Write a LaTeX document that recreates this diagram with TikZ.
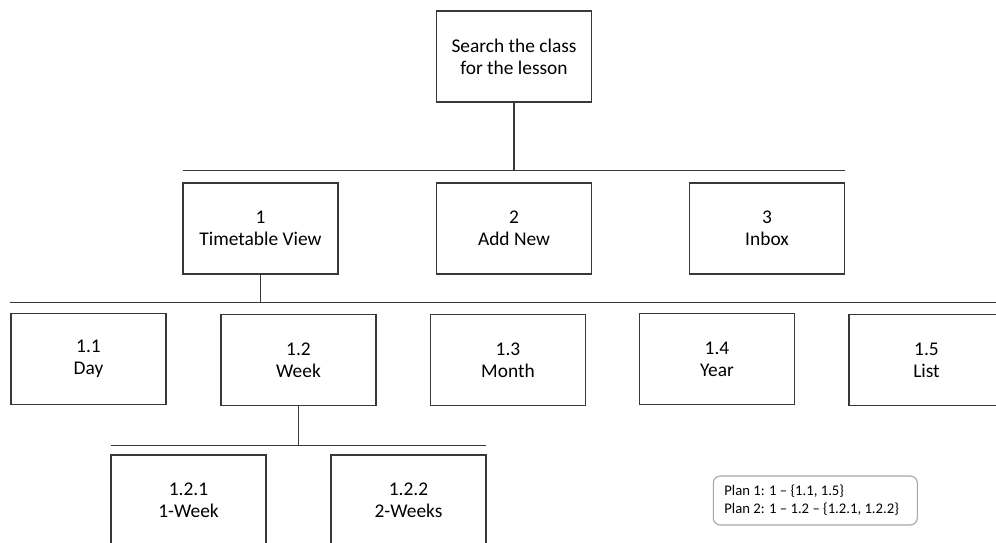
\documentclass[tikz,border=0pt]{standalone}
\usepackage{fontspec}
\setmainfont{Carlito}
\begin{document}
\begin{tikzpicture}[x=1pt,y=-1pt,
  box/.style={draw=black!78, line width=1.4pt, fill=white, inner sep=0pt,
    minimum width=155pt, minimum height=91pt, align=center,
    font=\fontsize{19.4}{22}\selectfont},
  conn/.style={draw=black!78, line width=1.4pt},
  planbox/.style={draw=black!35, line width=1.1pt, rounded corners=7pt, align=flush left,
    inner xsep=11pt, inner ysep=0pt, text width=182pt, minimum height=49pt,
    font=\fontsize{14.7}{18.3}\selectfont}]
\useasboundingbox (0,0) rectangle (996,543);
\clip (0,0) rectangle (996,543);
% top
\node[box] (root) at (514,56.5) {Search the class\\for the lesson};
% level 1
\node[box] (n1) at (260.5,228.3) {1\\Timetable View};
\node[box] (n2) at (514,228.3) {2\\Add New};
\node[box] (n3) at (767,228.3) {3\\Inbox};
% level 2
\node[box] (n11) at (88.5,359) {1.1\\Day};
\node[box] (n12) at (298.5,360) {1.2\\Week};
\node[box] (n13) at (508,360) {1.3\\Month};
\node[box] (n14) at (717,359) {1.4\\Year};
\node[box] (n15) at (926.5,360) {1.5\\List};
% level 3
\node[box] (n121) at (188.5,500.5) {1.2.1\\1-Week};
\node[box] (n122) at (408.5,500.5) {1.2.2\\2-Weeks};
% buses
\coordinate (b1L) at (183,170.7);
\coordinate (b1R) at (845,170.7);
\coordinate (b2L) at (10,302.5);
\coordinate (b2R) at (996,302.5);
\coordinate (b3L) at (110.5,445.7);
\coordinate (b3R) at (486,445.7);
\draw[conn] (b1L) -- (b1R);
\draw[conn] (b2L) -- (b2R);
\draw[conn] (b3L) -- (b3R);
\draw[conn] (root.south) -- (root.south |- b1L);
\draw[conn] (n1.south) -- (n1.south |- b2L);
\draw[conn] (n12.south) -- (n12.south |- b3L);
% plan
\node[planbox] (plan) at (815.3,500.5) {\mbox{Plan 1: 1 -- \{1.1, 1.5\}}\\\mbox{Plan 2: 1 -- 1.2 -- \{1.2.1, 1.2.2\}}};
\end{tikzpicture}
\end{document}
